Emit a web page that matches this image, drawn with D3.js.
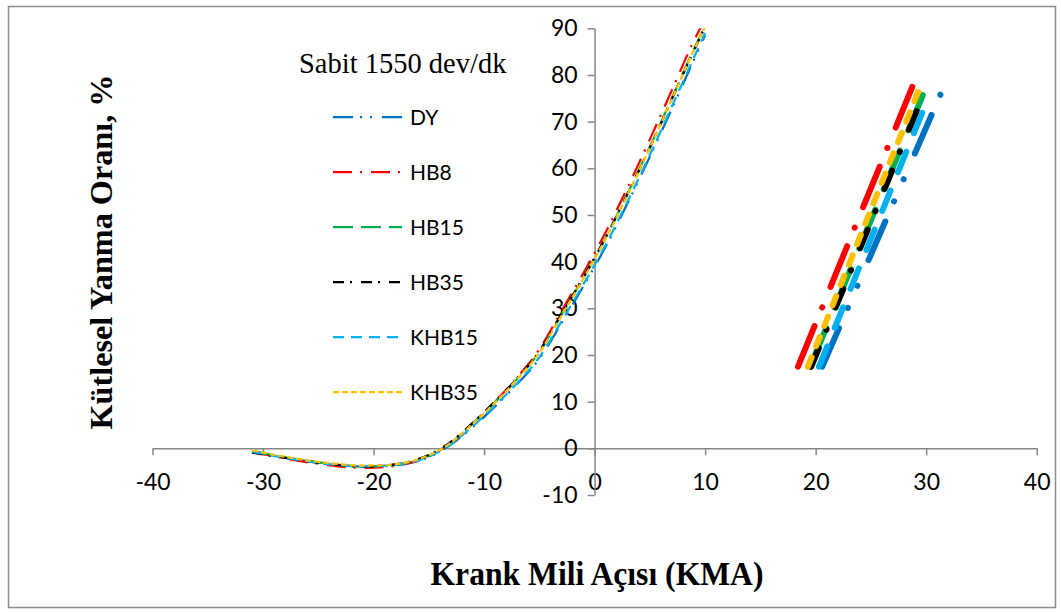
<!DOCTYPE html>
<html>
<head>
<meta charset="utf-8">
<script src="https://cdn.jsdelivr.net/npm/d3@7/dist/d3.min.js"></script>
<style>
  body { margin: 0; background: #fff; }
  svg { display: block; }
</style>
</head>
<body>
<svg id="chart" width="1061" height="613"></svg>
<script>
// crank angle points (KMA) shared by all series
const angles = [-31, -29, -27, -25, -23, -21, -19, -17, -15, -13, -11, -9, -7, -5, -3, -1, 1, 3, 5, 7, 9, 10];

// mass fraction burned, %
const dyValues    = [-0.8, -1.6, -2.4, -3.1, -3.6, -3.9, -3.8, -3.3, -1.9, 0.8, 4.6, 9.0, 13.8, 19.2, 26.8, 34.8, 43.2, 52.6, 62.5, 72.8, 83.3, 88.5];
const hb8Values   = [-0.7, -1.7, -2.6, -3.3, -3.9, -4.2, -4.0, -3.3, -1.7, 1.2, 5.4, 10.0, 15.2, 21.2, 29.4, 37.6, 46.3, 56.0, 66.2, 76.8, 87.4, 92.0];
const hb15Values  = [-0.6, -1.5, -2.3, -3.0, -3.6, -3.9, -3.8, -3.1, -1.6, 1.2, 5.4, 9.9, 14.9, 20.6, 28.6, 36.6, 45.1, 54.7, 64.6, 75.1, 85.6, 90.5];
const hb35Values  = [-0.9, -1.7, -2.4, -3.1, -3.6, -3.9, -3.7, -3.0, -1.4, 1.4, 5.5, 10.1, 15.0, 20.8, 28.8, 36.7, 45.2, 54.6, 64.4, 74.9, 85.3, 90.3];
const khb15Values = [-0.7, -1.6, -2.4, -3.1, -3.6, -3.8, -3.7, -3.2, -1.8, 0.9, 4.8, 9.2, 14.0, 19.5, 27.2, 35.2, 43.6, 53.0, 62.9, 73.3, 83.8, 89.0];
const khb35Values = [-0.4, -1.4, -2.2, -2.9, -3.4, -3.7, -3.6, -3.0, -1.5, 1.2, 5.3, 9.8, 14.8, 20.5, 28.4, 36.4, 44.9, 54.4, 64.4, 74.9, 85.4, 90.3];

// the thick magnified stroke pieces at the right, [x, y] start and end
const insetStart = [[20.6, 17.5], [18.4, 17.5], [19.5, 17.5], [19.6, 17.5], [20.3, 17.5], [19.3, 17.5]];
const insetEnd   = [[31.6, 77.5], [28.8, 77.8], [29.7, 75.7], [29.5, 74.3], [30.1, 74.6], [29.3, 76.5]];

const seriesNames = ["DY", "HB8", "HB15", "HB35", "KHB15", "KHB35"];
const xTicks = [-40, -30, -20, -10, 0, 10, 20, 30, 40];
const yTicks = [-10, 0, 10, 20, 30, 40, 50, 60, 70, 80, 90];

const allValues = [dyValues, hb8Values, hb15Values, hb35Values, khb15Values, khb35Values];
const colors = ["#0070C0", "#FF0000", "#00B050", "#000000", "#00B0F0", "#FFC000"];
const dashes = ["20,7,2,8,2,10", "19,8,2,9", "20,8", "11,6,2,9", "11,7", "6,3"];
const insetDashes = ["42,22,0.1,24,0.1,28", "44,20,0.1,22", "42,22", "20,20,0.1,24", "22,20", "10,12"];

const series = seriesNames.map((name, i) => ({
    name: name,
    color: colors[i],
    dash: dashes[i],
    insetDash: insetDashes[i],
    points: angles.map((a, j) => ({x: a, y: allValues[i][j]})),
    inset: [{x: insetStart[i][0], y: insetStart[i][1]}, {x: insetEnd[i][0], y: insetEnd[i][1]}]
}));

const svg = d3.select("#chart");

// outer frame
svg.append("rect")
    .attr("x", 8.5).attr("y", 6.5)
    .attr("width", 1047).attr("height", 601)
    .attr("fill", "none")
    .attr("stroke", "#8c8c8c")
    .attr("stroke-width", 1.5);

const x = d3.scaleLinear().domain([-40, 40]).range([152.5, 1036.7]);
const y = d3.scaleLinear().domain([-10, 90]).range([495, 28.3]);

const axisColor = "#868686";
const tickFont = "Lato, 'Open Sans', sans-serif";
const plain = d => String(d);   // keep the hyphen minus like the original

// x axis crossing at y = 0
const gx = svg.append("g")
    .attr("transform", `translate(0,${y(0)})`)
    .call(d3.axisBottom(x).tickValues(xTicks).tickFormat(plain)
        .tickSize(7).tickSizeOuter(0).tickPadding(18));

// y axis crossing at x = 0
const gy = svg.append("g")
    .attr("transform", `translate(${x(0)},0)`)
    .call(d3.axisLeft(y).tickValues(yTicks).tickFormat(plain)
        .tickSize(7).tickSizeOuter(0).tickPadding(10));

[gx, gy].forEach(g => {
    g.select(".domain").attr("stroke", axisColor).attr("stroke-width", 1.5);
    g.selectAll(".tick line").attr("stroke", axisColor).attr("stroke-width", 1.5);
    g.selectAll(".tick text")
        .attr("fill", "#000")
        .style("font-family", tickFont)
        .style("font-size", "23px");
});

// clip the curves at the top of the value axis
svg.append("clipPath").attr("id", "plot-clip")
    .append("rect")
    .attr("x", x(-40)).attr("y", y(90))
    .attr("width", x(40) - x(-40)).attr("height", y(-10) - y(90));

const line = d3.line()
    .x(d => x(d.x))
    .y(d => y(d.y))
    .curve(d3.curveMonotoneX);

const plot = svg.append("g").attr("clip-path", "url(#plot-clip)");

plot.selectAll(".curve")
    .data(series)
    .join("path")
    .attr("class", "curve")
    .attr("d", d => line(d.points))
    .attr("fill", "none")
    .attr("stroke", d => d.color)
    .attr("stroke-width", 2.25)
    .attr("stroke-dasharray", d => d.dash);

// magnified pieces
const straight = d3.line().x(d => x(d.x)).y(d => y(d.y));
svg.selectAll(".inset")
    .data(series)
    .join("path")
    .attr("class", "inset")
    .attr("d", d => straight(d.inset))
    .attr("fill", "none")
    .attr("stroke", d => d.color)
    .attr("stroke-width", 6)
    .attr("stroke-linecap", "round")
    .attr("stroke-dasharray", d => d.insetDash);

// legend
svg.append("text")
    .attr("x", 299).attr("y", 73)
    .style("font-family", "'Liberation Serif', 'Times New Roman', serif")
    .style("font-size", "28.5px")
    .text("Sabit 1550 dev/dk");

const legend = svg.append("g")
    .selectAll("g")
    .data(series)
    .join("g")
    .attr("transform", (d, i) => `translate(333,${117 + i * 55})`);

legend.append("line")
    .attr("x1", 0).attr("x2", 69)
    .attr("stroke", d => d.color)
    .attr("stroke-width", 2.25)
    .attr("stroke-dasharray", d => d.dash);

legend.append("text")
    .attr("x", 77).attr("y", 7.5)
    .style("font-family", tickFont)
    .style("font-size", "21px")
    .text(d => d.name);

// axis titles
svg.append("text")
    .attr("x", 597).attr("y", 585)
    .attr("text-anchor", "middle")
    .attr("textLength", 333)
    .attr("lengthAdjust", "spacingAndGlyphs")
    .style("font-family", "'Liberation Serif', 'Times New Roman', serif")
    .style("font-weight", "bold")
    .style("font-size", "33px")
    .text("Krank Mili Açısı (KMA)");

svg.append("text")
    .attr("transform", "translate(112,252) rotate(-90)")
    .attr("text-anchor", "middle")
    .attr("textLength", 355)
    .attr("lengthAdjust", "spacingAndGlyphs")
    .style("font-family", "'Liberation Serif', 'Times New Roman', serif")
    .style("font-weight", "bold")
    .style("font-size", "31px")
    .text("Kütlesel Yanma Oranı, %");
</script>
</body>
</html>
